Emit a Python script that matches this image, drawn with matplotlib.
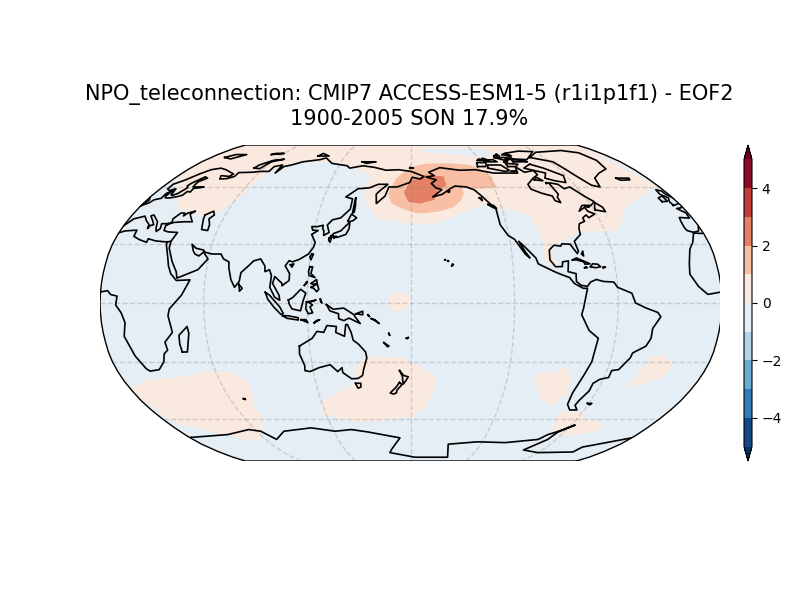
#region Import Modules

import matplotlib
matplotlib.use('Agg')

import matplotlib.pyplot as plt

from matplotlib.cm import ScalarMappable
from matplotlib.colors import BoundaryNorm, ListedColormap
from matplotlib.patches import Polygon

import numpy as np

#endregion

#region Inputs

title_text='NPO_teleconnection: CMIP7 ACCESS-ESM1-5 (r1i1p1f1) - EOF2\n1900-2005 SON 17.9%'

levels=[-5,-4,-3,-2,-1,0,1,2,3,4,5]
cbar_ticks=[-4,-2,0,2,4]
grid_lons=[-120,-60,0,60,120]
grid_lats=[-60,-30,0,30,60]

# robinson table
rob_lat=np.arange(0,95,5.)
rob_x=[1,.9986,.9954,.99,.9822,.973,.96,.9427,.9216,.8962,.8679,.835,.7986,.7597,.7186,.6732,.6213,.5722,.5322]
rob_y=[0,.062,.124,.186,.248,.31,.372,.434,.4958,.5571,.6176,.6769,.7346,.7903,.8435,.8936,.9394,.9761,1]

# EOF pattern regions, (lon, lat), one value each, background is -0.5
field_background=-0.5
north_pale=[(0,68),(9,61),(19,54),(26,48),(47,44),(56,48),(61,54),(66,66),(67,69),(81,74),(109,75),(134,71),(150,66),(146,61),(150,51),(159,43),(183,40),(197,41),(220,48),(230,51),(239,49),(256,45),(258,39),(260,31),(258,23),(261,20),(266,19),(264,27),(264,30),(271,31),(283,36),(308,37),(314,42),(322,49),(355,60),(360,60),(360,90),(0,90)]
arctic_blue=[(184,84),(206,81),(247,78),(259,82),(243,86),(208,86)]
alaska_1=[(164,56),(165,59),(169,65),(175,69),(182,72),(190,73.5),(199,74),(213,74),(229,73),(237,70),(242,66),(242,60),(230,59),(217,60),(217,56),(213,52),(208,49),(199,47),(190,46),(183,46),(175,48),(167,51)]
alaska_2=[(175,57),(179,63),(192,67),(205,66),(206,61),(199,58),(196,53),(186,51),(178,52)]
equator_pale=[(166,0),(168,3),(172,5),(178,4),(180,0),(178,-3),(171,-4),(167,-2)]
indian_pale=[(-2,-44),(15,-39),(35,-38),(53,-35),(68,-35),(76,-39),(77,-46),(73,-53),(73,-59),(66,-66),(50,-74),(39,-71),(31,-69),(16,-65),(5,-62),(3,-56),(2,-51)]
tasman_pale=[(120,-51),(131,-46),(145,-41),(146,-33),(152,-28),(160,-27),(175,-28),(184,-32),(195,-37),(195,-44),(190,-53),(181,-59),(144,-62),(123,-59),(117,-57)]
chile_pale=[(257,-38),(262,-35),(269,-36),(274,-32),(280,-39),(282,-46),(276,-52),(267,-50),(260,-43)]
drake_pale=[(284,-58),(286,-56),(302,-56),(302,-59),(321,-62),(326,-65),(319,-68),(305,-70),(290,-67)]
atlantic_pale=[(318,-43),(320,-35),(324,-28),(330,-26),(339,-32),(337,-37),(328,-41)]
edge_pale=[(360,-51),(360,-45),(367,-45),(374,-51)]

field_regions=[
    (north_pale,0.5),
    (arctic_blue,-0.5),
    (alaska_1,1.5),
    (alaska_2,2.5),
    (equator_pale,0.5),
    (indian_pale,0.5),
    (tasman_pale,0.5),
    (chile_pale,0.5),
    (drake_pale,0.5),
    (atlantic_pale,0.5),
    (edge_pale,0.5),
]

# coastlines, (lon, lat)
eurasia=[(-5.6,36),(-9,37),(-9.5,38.7),(-8.8,42),(-8,43.7),(-1.8,43.4),(-1.2,46),(-4.7,48.4),(-1.5,48.7),(1.5,50.5),(3.5,51.4),(4.7,53),(8.5,53.8),(8.2,56.5),(10.5,57.7),(10,55),(11,54),(14,54),(18.5,54.7),(21,55.5),(21.5,57.5),(24,57.2),(23.5,59.2),(28,59.6),(30,60),(25,60),(22,60),(21.5,61.5),(21.3,63),(25,65),(22,65.8),(17.5,62),(17,60.5),(18.8,59.7),(16.5,56.5),(14.2,55.4),(12.8,55.6),(11.2,59),(8,58),(5.5,58.8),(5,61.5),(10,64),(14.5,67.5),(19,70),(25,71),(31,70),(41,67.5),(40,66),(33,66.5),(35,64.5),(40,64.7),(44,66),(44,68.3),(54,68.5),(60,69),(67,69),(67,72),(72.5,73),(73,68),(75,72),(80,73),(87,75),(100,76.5),(104,77.7),(113,74),(127,72.5),(130,71),(140,72.5),(150,71.5),(160,69.7),(170,70),(180,69),(190,66),(187,64.5),(181,65.5),(179,62.5),(170,60),(164,60),(163,57.5),(162,55),(156.7,51),(155.7,56),(158,58),(163,61.5),(156,61.5),(150,59.5),(142,59),(135,54.5),(140,53.5),(140,48),(135,43.5),(130,42.5),(127.5,39.8),(129.5,36),(126.5,34.5),(126,37),(125,38),(125,39.7),(121.5,39),(118,39),(119,37.2),(122.5,37),(119,35),(122,31),(121.5,28.5),(119,25),(114,22.3),(110,21),(108,21.6),(106,19),(109,15),(109,11.5),(105,8.8),(105,10),(100.5,13.5),(99.5,10),(103.5,4),(104,1.4),(101,3),(98,8),(98.5,14),(97,17),(94.5,16),(94,19),(91,22.5),(87,21.5),(85,19.5),(80.5,15.5),(80,11),(77.5,8),(75,12),(73,18),(72.5,21),(69,22.5),(67,25),(61.5,25),(57,26),(56,27),(51,28),(48,30),(50,26.5),(51.5,25),(54,24),(56.3,26),(59.8,22.5),(55,17),(43.5,12.7),(42.5,16),(39,21),(35,28),(34.5,31.5),(36,36),(32,36.2),(30,36.3),(27,37),(26.3,39.5),(29,41),(31,41.2),(36,41.5),(41.5,41.5),(38,44.5),(37,45.5),(39,47),(35,46),(33.5,44.5),(33,46),(30.5,46),(28,43),(29,41),(26,40.5),(23,40.5),(24,38),(22.5,36.5),(21,38.5),(19.5,41.5),(14,45),(12.5,44.5),(16,42),(18.4,40),(16.5,39.5),(16,38),(15.5,40),(12,42),(8.8,44.4),(3,43),(0,39.5),(-2,36.8),(-5.6,36)]
africa=[(32.5,31.2),(32.5,30),(35.5,24),(37.3,19),(39.5,15),(43.3,11.5),(51.2,11.8),(47,4),(40,-3),(39,-6.5),(40.5,-15),(35,-20),(35.5,-24),(32.8,-26),(31,-30),(26,-34),(20,-34.8),(18.3,-33.5),(15,-27),(11.8,-17),(13.7,-10),(12,-5),(9,-1),(9.7,3.5),(6,4.3),(4,6.3),(-4,5),(-8,4.4),(-13,8.5),(-17,14.7),(-16,20),(-13,27.5),(-9.5,31),(-6,35.7),(-1,35.5),(3,36.8),(10,37.2),(10.5,34),(15,32.3),(20,31),(20,32.8),(25,31.7),(30,31.3),(32.5,31.2),(34.5,31.5)]
americas=[(-168,65.6),(-162,66.5),(-166,68.5),(-156.5,71.3),(-141,69.7),(-128,70),(-115,68),(-108,68),(-96,68),(-94,71.8),(-90,68.5),(-82,69.5),(-81.5,67),(-87,65),(-94,61.5),(-94,58.8),(-88,56.5),(-82,55),(-82,52.5),(-79,51.5),(-79,54.5),(-77,56),(-78,62.4),(-72,61.5),(-70,59),(-65,60),(-60,55),(-56,52),(-60,50),(-66,50),(-70,47),(-65,49),(-64.5,47),(-61,45.5),(-66,43.6),(-67,45),(-70,43.5),(-70,41.7),(-74,40.5),(-75.5,38),(-76,35),(-81,31.5),(-80,26.5),(-81,25.2),(-82.8,28),(-84,30),(-89,30.2),(-90,29),(-94,29.5),(-97.3,27),(-97.8,22),(-95,18.5),(-91,18.6),(-90.5,21),(-87,21.5),(-88,16),(-83.5,15),(-83.7,11),(-81,9),(-77.5,8.5),(-75.5,10.7),(-72,12),(-68,11),(-62,10.7),(-60,8),(-52,5),(-50,0),(-44,-2.5),(-37,-4.8),(-35,-7),(-39,-13),(-39,-18),(-41,-22),(-48,-25.5),(-48.5,-28),(-53,-34),(-57,-34.5),(-57,-38),(-62,-39),(-65,-41),(-65,-45),(-68,-50),(-68.5,-52.5),(-65,-55),(-70,-55),(-74,-52),(-75,-46),(-73,-37),(-71,-30),(-70,-18),(-76,-14),(-81,-6),(-80,-2.5),(-79,2),(-77.5,7.5),(-80,7.5),(-85,10),(-87.5,13),(-92,14.5),(-96,16),(-105,20),(-106,23),(-112,29),(-114.7,31.5),(-112,26.5),(-109.5,23),(-112,25),(-117,32.5),(-120.5,34.5),(-124,40),(-124,48),(-128,52),(-131,55),(-135,58.5),(-140,60),(-148,60.5),(-152,59),(-158,56),(-165,54.5),(-158,58.5),(-162,59.5),(-165,62),(-161,64),(-168,65.6)]
antarctica=[(1.5,-70.7),(34,-69),(55,-66),(63,-67),(69,-72),(81,-67),(104,-65),(121,-67),(134,-66),(146,-67.4),(171,-71),(163,-78),(160,-81),(184,-85),(217,-85),(212,-75),(236,-73.5),(260,-74),(285,-72),(289,-69),(295,-67),(303,-63.4),(295,-67.5),(293,-72),(283,-79),(300,-81),(332,-80.5),(332,-77),(361.5,-70.7)]
australia=[(114,-22),(113.5,-26),(115.5,-32),(115,-34.5),(118,-35),(124,-33),(131,-31.5),(135,-35),(138,-33),(138,-35.5),(143,-38.7),(147,-38.5),(150,-37),(151,-34),(153.5,-28),(153,-25),(149,-21),(146,-19),(145,-15),(143,-11),(142,-11),(141,-17),(136,-15),(136.5,-12),(131,-11.5),(129,-15),(125,-14.5),(122,-18),(114,-22)]

islands=[
    [(-5,50),(1,51.2),(1.5,53),(-2,56),(-2,57.7),(-5,58.5),(-6,56),(-3,54),(-5,52),(-5,50)],
    [(-10,52),(-6,52.2),(-6,55),(-10,54),(-10,52)],
    [(-24,65),(-14,65),(-15,64),(-22,63.8),(-24,65)],
    [(47,45),(51,47),(53,45),(51,43),(53.5,40),(54,37),(50,37.5),(49,40),(47.5,43),(47,45)],
    [(52,71),(57,70.7),(60,75),(68,76.8),(60,76),(53,73),(52,71)],
    [(12,78),(20,77),(27,80),(17,80),(12,78)],
    [(95,79),(105,79),(97,81),(95,79)],
    [(138,75),(145,75),(150,75),(142,74),(138,75)],
    [(179,71),(182,71),(179,71.5),(179,71)],
    [(50,80),(60,81),(52,81),(50,80)],
    [(142,54),(143,50),(143,46.5),(142,46),(142,50),(142,54)],
    [(130.9,34),(135,33.5),(140,35),(141.5,38),(141.3,41.3),(139.9,40),(136.5,36.8),(132.5,35.5),(130.9,34)],
    [(130,33),(131.5,33.5),(131,31),(130,32),(130,33)],
    [(132.5,34),(134.5,34),(133,33),(132.5,34)],
    [(140,42),(141.5,45.5),(145.2,43.5),(143,42),(140.5,41.5),(140,42)],
    [(121,25),(122,25),(120.8,22),(120,23.5),(121,25)],
    [(109,19.5),(111,20),(110,18.3),(109,19.5)],
    [(120.5,18.5),(122.2,18.5),(121.5,15),(124,13),(120.5,14),(120,16),(120.5,18.5)],
    [(122,10),(125,12),(125.5,10),(123,9.5),(122,10)],
    [(122,8),(125.5,9.7),(126.5,7),(125.3,5.8),(123.5,7.5),(122,8)],
    [(118,9),(119.5,11),(119.7,10.5),(118,9)],
    [(80,9.5),(82,7.5),(80.5,6),(80,9.5)],
    [(95.5,5.5),(98,4),(104,-2),(106,-5.5),(104.5,-5.8),(100.5,-2),(97,2),(95.5,5.5)],
    [(105.5,-6.5),(108.5,-6.5),(114.5,-7.5),(114.5,-8.7),(108,-7.8),(105.5,-6.5)],
    [(109,1.5),(111.5,2.8),(116,7),(119,5),(117.5,1),(116,-4),(111,-3),(109.5,-0.5),(109,1.5)],
    [(119.5,0.5),(125,1.5),(121,0.2),(123,-1),(121.5,-2),(123,-5),(120.5,-5.5),(119,-3),(119.5,0.5)],
    [(131,-0.8),(135,-3.2),(141,-2.6),(147,-6),(147.5,-7),(150.5,-10.5),(144,-7.7),(141,-9),(138,-8),(138,-5.5),(133,-4),(131,-0.8)],
    [(124,-10),(127,-8.5),(125,-9),(123.5,-10.3),(124,-10)],
    [(116,-8.5),(119,-8.5),(120,-10),(116,-8.5)],
    [(127.5,2),(128.5,0),(127.7,0.5),(127.5,2)],
    [(148,-5.5),(152,-4.2),(152,-6),(148,-5.5)],
    [(155,-6),(156,-7),(155,-6.3),(155,-6)],
    [(157,-8),(160,-9.5),(161.5,-10.5),(159,-8.5),(157,-8)],
    [(164,-20.2),(167,-22),(166,-22.3),(164,-20.2)],
    [(167,-15.5),(167.5,-16.5),(167,-15.5)],
    [(177.3,-18),(178.5,-17.5),(178,-18.2),(177.3,-18)],
    [(-156,19),(-155,19.5),(-155.5,20),(-156,19)],
    [(-158.2,21.3),(-157.7,21.4),(-158,21.7),(-158.2,21.3)],
    [(-160,22),(-159.4,22),(-159.6,22.2),(-160,22)],
    [(44,-25),(47,-25),(50,-15.5),(49.5,-12),(44,-16.5),(43.5,-21),(44,-25)],
    [(145,-41),(148.3,-41),(148,-43),(146,-43.5),(145,-41)],
    [(173,-34.5),(175.5,-37),(178.3,-37.7),(176.9,-39.5),(175,-41.5),(174.8,-39.7),(174.7,-37.5),(173,-34.5)],
    [(172.7,-40.6),(174.3,-41.7),(171,-44.5),(170.5,-46),(168.5,-46.6),(166.5,-46),(170.5,-43),(172.7,-40.6)],
    [(69,-49),(70,-49),(70,-49.5),(69,-49)],
    [(-61,-51.5),(-58,-51.5),(-59,-52.3),(-61,-51.5)],
    [(-84.5,22),(-82,23),(-77,21),(-74.5,20),(-77.5,19.8),(-78,21),(-82,22),(-84.5,22)],
    [(-74.5,18.5),(-73,20),(-70,19.8),(-68.5,18.5),(-71.5,18),(-74.5,18.5)],
    [(-78,18),(-76.5,18),(-77,18.5),(-78,18)],
    [(-67,18),(-65.7,18.3),(-67,18.5),(-67,18)],
    [(-78.5,25),(-77.5,24),(-77.5,26.5),(-78.5,25)],
    [(-59,47.7),(-53,46.7),(-53,49),(-56,51.5),(-58,49.5),(-59,47.7)],
    [(-128.5,50.5),(-125,50),(-123.5,48.5),(-125.5,48.8),(-128.5,50.5)],
    [(-133,54),(-131.7,54),(-131.5,52.5),(-133,54)],
    [(-154,57.5),(-152.5,58),(-153,57),(-154,57.5)],
    [(-64,49.9),(-61.7,49.2),(-64,49.3),(-64,49.9)],
    [(-73,78),(-60,82),(-32,83.5),(-20,81.5),(-18,76),(-22,70.5),(-32,68),(-40,65),(-43,60),(-48,61),(-53,67),(-55,70),(-58,75),(-73,78)],
    [(-80,73.5),(-72,71),(-62,66.5),(-65,62.5),(-72,63.5),(-78,65),(-74,68),(-88,71),(-80,73.5)],
    [(-117,71),(-105,69),(-101,69.5),(-105,73),(-116,73),(-117,71)],
    [(-90,77),(-78,76.5),(-62,82.5),(-75,83),(-92,81),(-90,77)],
    [(-125,72),(-118,72),(-116,74.5),(-124,74.5),(-125,72)],
    [(-92,75),(-80,75),(-82,76),(-92,76.5),(-92,75)],
    [(-95,80),(-88,79),(-90,81),(-95,80)],
    [(-117,75),(-106,75),(-108,76.5),(-117,76),(-117,75)],
    [(-100,72),(-93,72),(-90,73.5),(-100,74),(-100,72)],
    [(-87,64),(-81,63.5),(-84,65.5),(-87,64)],
    [(-105,78),(-98,76),(-95,78),(-105,78)],
    [(-120,76),(-112,76),(-116,77.5),(-120,76)],
    [(-80,62),(-79,62.3),(-80,62.5),(-80,62)],
    [(-100,69),(-96,69.5),(-98,68.7),(-100,69)],
    [(-100,75),(-97,75),(-98,76),(-100,75)],
    [(-122,76),(-118,76),(-120,77),(-122,76)],
    [(-96,76),(-92,77),(-94,78),(-96,76)],
    [(-104,79),(-99,79),(-100,80.5),(-104,79)],
]

coast_lines=[eurasia,africa,americas,antarctica,australia]+islands

#endregion

#region Projection


def robinson(lon,lat):
    # lon is taken relative to the 180 central meridian, no wrapping
    lon=np.asarray(lon,dtype=float)
    lat=np.asarray(lat,dtype=float)
    px=np.interp(np.abs(lat),rob_lat,rob_x)
    py=np.interp(np.abs(lat),rob_lat,rob_y)
    return 0.8487*px*np.radians(lon-180),1.3523*py*np.sign(lat)


def shifted_copies(points):
    lon=np.array([p[0] for p in points],dtype=float)
    lat=np.array([p[1] for p in points],dtype=float)
    for shift in [-360,0,360]:
        yield robinson(lon+shift,lat)


#endregion

#region Plot

fig=plt.figure(figsize=(8,6),dpi=100)

# map is 622 px wide but the axes stops at 620, the right edge gets cut
ax=fig.add_axes([100/800,139/600,620/800,316/600])
ax.set_xlim(-0.8487*np.pi,0.8487*np.pi*309/311)
ax.set_ylim(-1.3523,1.3523)
ax.axis('off')

# contourf style colours: middle of each band, ends for the extensions
base=plt.get_cmap('RdBu_r')
mids=(np.array(levels[:-1])+0.5-levels[0])/(levels[-1]-levels[0])
cmap=ListedColormap(base(mids))
cmap.set_under(base(0.0))
cmap.set_over(base(1.0))
norm=BoundaryNorm(levels,cmap.N)

b_lat=np.array(list(rob_lat[::-1]*-1)+list(rob_lat[1:]))
bx,by=robinson(np.full(b_lat.size,360.),b_lat)
outline=np.column_stack([np.r_[bx,-bx[::-1],bx[0]],np.r_[by,by[::-1],by[0]]])
boundary=Polygon(outline,closed=True,facecolor=cmap(norm(field_background)),edgecolor='none',zorder=1)
ax.add_patch(boundary)

for region,value in field_regions:
    for rx,ry in shifted_copies(region):
        patch=ax.fill(rx,ry,color=cmap(norm(value)),lw=0,zorder=2)[0]
        patch.set_clip_path(boundary)

grid_kw=dict(color='gray',alpha=0.3,lw=1,ls='--',zorder=3)
for g_lon in grid_lons:
    gx_,gy_=robinson(np.full(b_lat.size,g_lon+180.),b_lat)
    ax.plot(gx_,gy_,**grid_kw)
for g_lat in grid_lats:
    gx_,gy_=robinson(np.array([0.,360.]),np.array([g_lat,g_lat]))
    ax.plot(gx_,gy_,**grid_kw)

for line in coast_lines:
    for cx,cy in shifted_copies(line):
        l=ax.plot(cx,cy,color='k',lw=1.2,zorder=4)[0]
        l.set_clip_path(boundary)

ax.plot(outline[:,0],outline[:,1],color='k',lw=1,zorder=5)

fig.text(0.512,0.7918,title_text,ha='center',va='baseline',fontsize=15,linespacing=1.25)

cax=fig.add_axes([744/800,139/600,8/800,316/600])
cbar=fig.colorbar(ScalarMappable(norm=norm,cmap=cmap),cax=cax,extend='both',ticks=cbar_ticks,spacing='proportional')
cbar.minorticks_off()

fig.savefig('out.png',dpi=100)

#endregion
